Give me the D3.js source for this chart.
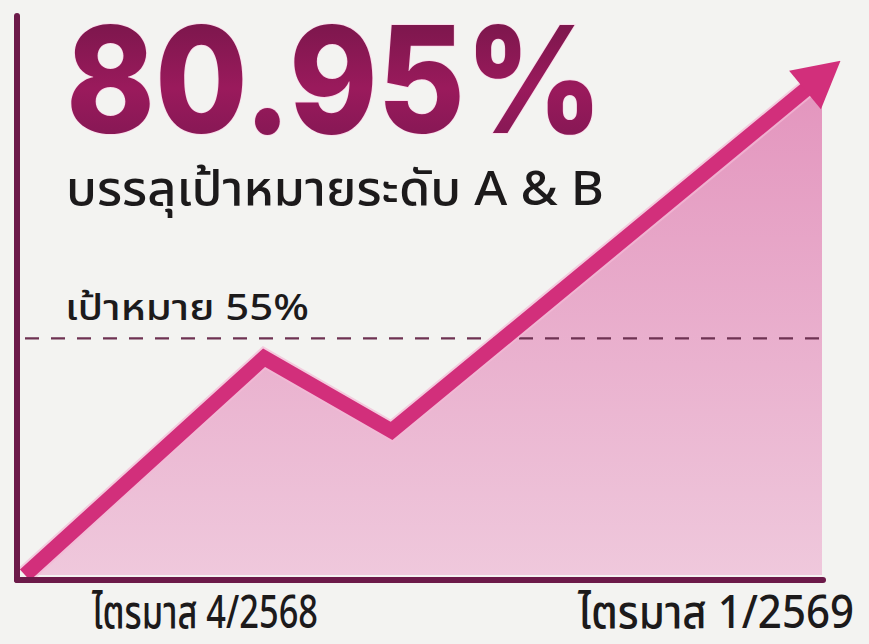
<!DOCTYPE html>
<html>
<head>
<meta charset="utf-8">
<script src="https://cdn.jsdelivr.net/npm/d3@7"></script>
<style>
  html, body { margin: 0; padding: 0; background: #f3f3f1; }
  svg { display: block; }
</style>
</head>
<body>
<div id="chart"></div>
<script>
// data
const points = ["start", "peak", "dip", "end"];
const pointX = [0, 30, 46, 100];          // position along the period axis (%)
const pointValue = [0, 50.5, 33.5, 116]; // trend line value
const targetValue = 55;
const headline = "80.95%";
const subtitle = "บรรลุเป้าหมายระดับ A & B";
const targetLabel = "เป้าหมาย 55%";
const periodLabels = ["ไตรมาส 4/2568", "ไตรมาส 1/2569"];

const width = 869, height = 644;
const thaiFont = "'Noto Sans Thai', 'Noto Sans', 'Noto Sans Thai UI', Tahoma, sans-serif";

const svg = d3.select("#chart").append("svg")
  .attr("width", width)
  .attr("height", height);

const x = d3.scaleLinear().domain([0, 100]).range([25, 822]);
const y = d3.scaleLinear().domain([0, 116]).range([575, 76]);

const data = points.map((p, i) => ({ name: p, x: pointX[i], v: pointValue[i] }));

const defs = svg.append("defs");

const grad = defs.append("linearGradient")
  .attr("id", "areaGrad")
  .attr("x1", 0).attr("y1", 0).attr("x2", 0).attr("y2", 1);
grad.append("stop").attr("offset", "0%").attr("stop-color", "#e394bd");
grad.append("stop").attr("offset", "100%").attr("stop-color", "#efc8dc");

const textGrad = defs.append("linearGradient")
  .attr("id", "textGrad")
  .attr("x1", 0).attr("y1", 0).attr("x2", 0).attr("y2", 1);
textGrad.append("stop").attr("offset", "0%").attr("stop-color", "#6e1545");
textGrad.append("stop").attr("offset", "55%").attr("stop-color", "#9a1a5c");
textGrad.append("stop").attr("offset", "100%").attr("stop-color", "#7a1650");

defs.append("marker")
  .attr("id", "arrow")
  .attr("markerUnits", "userSpaceOnUse")
  .attr("viewBox", "-24 -26 48 52")
  .attr("refX", 0).attr("refY", 0)
  .attr("markerWidth", 48).attr("markerHeight", 52)
  .attr("orient", "auto")
  .append("path")
  .attr("d", "M-22,-25 L24,0 L-22,25 Z")
  .attr("fill", "#d22f7b");

// area under the trend
const area = d3.area()
  .x(d => x(d.x))
  .y0(y(0))
  .y1(d => y(d.v));

svg.append("path")
  .datum(data)
  .attr("d", area)
  .attr("fill", "url(#areaGrad)");

// target line
svg.append("line")
  .attr("x1", x(0)).attr("x2", x(100))
  .attr("y1", y(targetValue)).attr("y2", y(targetValue))
  .attr("stroke", "#6e3252")
  .attr("stroke-width", 2.4)
  .attr("stroke-dasharray", "14,12");

// trend line
const line = d3.line()
  .x(d => x(d.x))
  .y(d => y(d.v));

svg.append("path")
  .datum(data)
  .attr("d", line)
  .attr("fill", "none")
  .attr("stroke", "#f4b9d6")
  .attr("stroke-width", 19)
  .attr("stroke-linejoin", "miter")
  .attr("opacity", 0.7);

svg.append("path")
  .datum(data)
  .attr("d", line)
  .attr("fill", "none")
  .attr("stroke", "#d22f7b")
  .attr("stroke-width", 15)
  .attr("stroke-linejoin", "miter")
  .attr("marker-end", "url(#arrow)");

// axes
svg.append("line")
  .attr("x1", 17).attr("x2", 17)
  .attr("y1", 16).attr("y2", 580)
  .attr("stroke", "#6c1a49")
  .attr("stroke-width", 6)
  .attr("stroke-linecap", "round");

svg.append("line")
  .attr("x1", 17).attr("x2", 823)
  .attr("y1", 580).attr("y2", 580)
  .attr("stroke", "#6c1a49")
  .attr("stroke-width", 6)
  .attr("stroke-linecap", "round");

// texts
svg.append("text")
  .attr("x", 66).attr("y", 133)
  .attr("font-family", "Inter, 'Noto Sans', sans-serif")
  .attr("font-weight", 800)
  .attr("font-size", 148)
  .attr("textLength", 537)
  .attr("lengthAdjust", "spacingAndGlyphs")
  .attr("fill", "url(#textGrad)")
  .attr("stroke", "#fbd6e8")
  .attr("stroke-width", 1.5)
  .attr("paint-order", "stroke")
  .text(headline);

svg.append("text")
  .attr("x", 66).attr("y", 205)
  .attr("font-family", thaiFont)
  .attr("font-size", 48)
  .attr("font-weight", 500)
  .attr("textLength", 538)
  .attr("lengthAdjust", "spacingAndGlyphs")
  .attr("fill", "#1c1a1b")
  .text(subtitle);

svg.append("text")
  .attr("x", 65).attr("y", 320)
  .attr("font-family", thaiFont)
  .attr("font-size", 36)
  .attr("font-weight", 500)
  .attr("textLength", 244)
  .attr("lengthAdjust", "spacingAndGlyphs")
  .attr("fill", "#1c1a1b")
  .text(targetLabel);

svg.selectAll(".period")
  .data(periodLabels)
  .join("text")
  .attr("class", "period")
  .attr("x", (d, i) => i === 0 ? 92 : 578)
  .attr("y", 628)
  .attr("font-family", thaiFont)
  .attr("font-size", 46)
  .attr("font-weight", 500)
  .attr("textLength", (d, i) => i === 0 ? 226 : 276)
  .attr("lengthAdjust", "spacingAndGlyphs")
  .attr("fill", "#1c1a1b")
  .text(d => d);
</script>
</body>
</html>
